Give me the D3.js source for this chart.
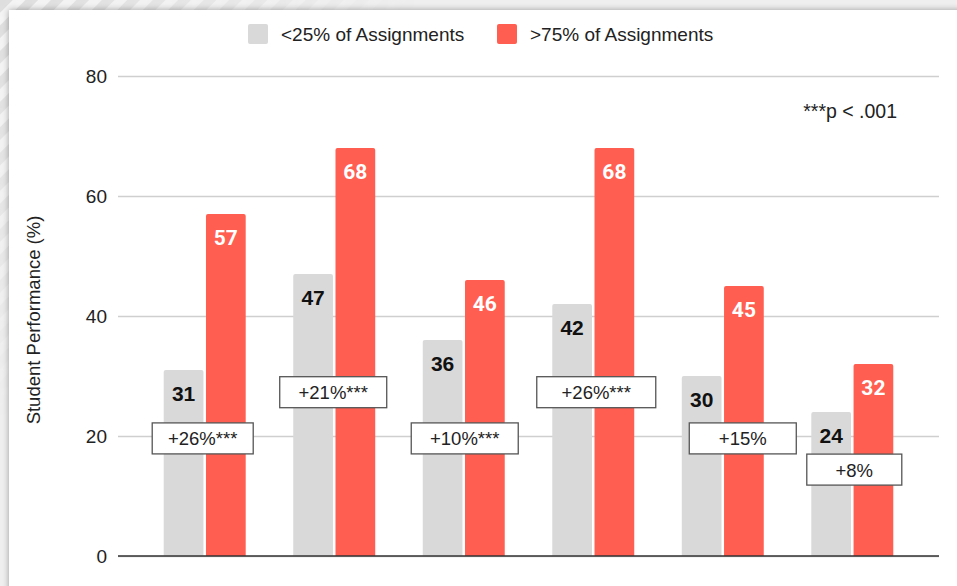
<!DOCTYPE html>
<html>
<head>
<meta charset="utf-8">
<script src="https://cdn.jsdelivr.net/npm/d3@7"></script>
<style>
  body { margin: 0; background: #f4f4f4; }
  svg { display: block; font-family: "Liberation Sans", Arial, sans-serif; }
</style>
</head>
<body>
<div id="chart"></div>
<script>
// data
const groups = ["G1", "G2", "G3", "G4", "G5", "G6"];
const seriesNames = ["<25% of Assignments", ">75% of Assignments"];
const lowValues = [31, 47, 36, 42, 30, 24];
const highValues = [57, 68, 46, 68, 45, 32];
const gainText = ["+26%***", "+21%***", "+10%***", "+26%***", "+15%", "+8%"];
const gainLevel = [19.6, 27.3, 19.6, 27.3, 19.6, 14.4]; // box centre, in y units
const yTicks = [0, 20, 40, 60, 80];
const note = "***p < .001";

const width = 957, height = 586;
const margin = { top: 76, right: 18, bottom: 30, left: 118 };
const colors = ["#d9d9d9", "#ff5e50"];
// annotation box layout (px)
const boxShift = [-2, -1, 1, 3, 20, 2];
const boxWidth = [101, 107, 107, 119, 107, 95];

const svg = d3.select("#chart").append("svg")
  .attr("width", width)
  .attr("height", height);

const defs = svg.append("defs");

// striped backdrop behind the card
const pat = defs.append("pattern")
  .attr("id", "stripes")
  .attr("patternUnits", "userSpaceOnUse")
  .attr("width", 18).attr("height", 18)
  .attr("patternTransform", "rotate(45)");
pat.append("rect").attr("width", 18).attr("height", 18).attr("fill", "#f3f3f3");
pat.append("rect").attr("width", 9).attr("height", 18).attr("fill", "#dedede");

const fade = defs.append("radialGradient")
  .attr("id", "fade")
  .attr("gradientUnits", "userSpaceOnUse")
  .attr("cx", 0).attr("cy", 0).attr("r", 420);
fade.append("stop").attr("offset", "0%").attr("stop-color", "#fff");
fade.append("stop").attr("offset", "100%").attr("stop-color", "#000");
defs.append("mask").attr("id", "fadeMask")
  .append("rect").attr("width", width).attr("height", height).attr("fill", "url(#fade)");

const shadow = defs.append("filter").attr("id", "shadow")
  .attr("x", "-5%").attr("y", "-5%").attr("width", "110%").attr("height", "110%");
shadow.append("feDropShadow")
  .attr("dx", 0).attr("dy", 0).attr("stdDeviation", 3)
  .attr("flood-color", "#000").attr("flood-opacity", 0.35);

svg.append("rect").attr("width", width).attr("height", height).attr("fill", "#efefef");
svg.append("rect").attr("width", width).attr("height", height)
  .attr("fill", "url(#stripes)").attr("mask", "url(#fadeMask)");

svg.append("rect")
  .attr("x", 9).attr("y", 10)
  .attr("width", width + 20).attr("height", height + 20)
  .attr("fill", "#fff")
  .attr("filter", "url(#shadow)");

// scales
const x0 = d3.scaleBand()
  .domain(groups)
  .range([margin.left, width - margin.right])
  .paddingInner(0.367)
  .paddingOuter(0.353);

const x1 = d3.scaleBand()
  .domain([0, 1])
  .range([0, x0.bandwidth()])
  .paddingInner(0.06);

const y = d3.scaleLinear()
  .domain([0, 80])
  .range([height - margin.bottom, margin.top]);

// gridlines + tick labels
const yAxis = svg.append("g")
  .attr("transform", `translate(${margin.left},0)`)
  .call(d3.axisLeft(y).tickValues(yTicks).tickSize(-(width - margin.left - margin.right)).tickPadding(11));
yAxis.select(".domain").remove();
yAxis.selectAll(".tick line").attr("stroke", "#cfcfcf").attr("stroke-width", 1.3);
yAxis.selectAll(".tick text")
  .attr("font-family", "Liberation Sans, Arial, sans-serif")
  .attr("font-size", 19).attr("fill", "#222");

svg.append("text")
  .attr("transform", `translate(40,${(y(0) + y(80)) / 2 + 4}) rotate(-90)`)
  .attr("text-anchor", "middle")
  .attr("font-size", 18.5)
  .attr("fill", "#222")
  .text("Student Performance (%)");

// bars
const rows = groups.map((g, i) => ({ g, vals: [lowValues[i], highValues[i]] }));

const groupSel = svg.append("g").selectAll("g")
  .data(rows)
  .join("g")
  .attr("transform", d => `translate(${x0(d.g)},0)`);

groupSel.selectAll("path")
  .data(d => d.vals.map((v, k) => ({ v, k })))
  .join("path")
  .attr("fill", d => colors[d.k])
  .attr("d", d => {
    const bx = x1(d.k), bw = x1.bandwidth(), top = y(d.v), bot = y(0), r = 2;
    return `M${bx},${bot}V${top + r}Q${bx},${top} ${bx + r},${top}H${bx + bw - r}Q${bx + bw},${top} ${bx + bw},${top + r}V${bot}Z`;
  });

groupSel.selectAll("text.val")
  .data(d => d.vals.map((v, k) => ({ v, k })))
  .join("text")
  .attr("class", "val")
  .attr("x", d => x1(d.k) + x1.bandwidth() / 2)
  .attr("y", d => y(d.v) + 31)
  .attr("text-anchor", "middle")
  .attr("font-weight", "bold")
  .attr("font-size", 21)
  .attr("font-family", d => d.k === 0 ? "Liberation Sans, Arial, sans-serif" : "Roboto, sans-serif")
  .attr("fill", d => d.k === 0 ? "#111" : "#fff")
  .text(d => d.v);

// baseline
svg.append("line")
  .attr("x1", margin.left).attr("x2", width - margin.right)
  .attr("y1", y(0)).attr("y2", y(0))
  .attr("stroke", "#333").attr("stroke-width", 1.5);

// gain boxes
const boxes = svg.append("g").selectAll("g")
  .data(groups.map((g, i) => ({ g, i })))
  .join("g")
  .attr("transform", d => `translate(${x0(d.g) + x0.bandwidth() / 2 + boxShift[d.i]},${y(gainLevel[d.i])})`);

boxes.append("rect")
  .attr("x", d => -boxWidth[d.i] / 2)
  .attr("y", -15.5)
  .attr("width", d => boxWidth[d.i])
  .attr("height", 31)
  .attr("fill", "#fff")
  .attr("stroke", "#555")
  .attr("stroke-width", 1.3);

boxes.append("text")
  .attr("text-anchor", "middle")
  .attr("y", 7)
  .attr("font-size", 18.5)
  .attr("fill", "#222")
  .text(d => gainText[d.i]);

// legend
const legend = svg.append("g").attr("transform", "translate(248,24)");
const legendX = [0, 249];
seriesNames.forEach((name, k) => {
  const item = legend.append("g").attr("transform", `translate(${legendX[k]},0)`);
  item.append("rect")
    .attr("width", 20).attr("height", 20).attr("rx", 2)
    .attr("fill", colors[k]);
  item.append("text")
    .attr("x", 33).attr("y", 17)
    .attr("font-size", 19)
    .attr("fill", "#222")
    .text(name);
});

// significance note
svg.append("text")
  .attr("x", 897).attr("y", 118)
  .attr("text-anchor", "end")
  .attr("font-size", 19.5)
  .attr("fill", "#222")
  .text(note);
</script>
</body>
</html>
